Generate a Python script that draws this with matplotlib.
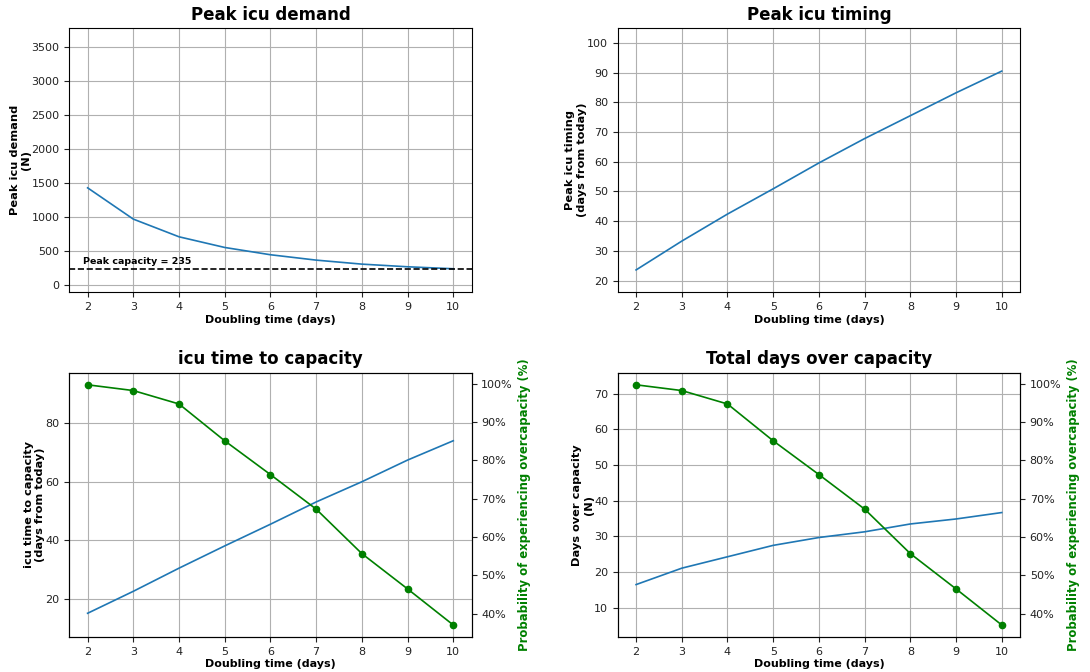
import numpy as np
import matplotlib.pyplot as plt
from matplotlib.ticker import PercentFormatter

# doubling times (days)
doubling = [2, 3, 4, 5, 6, 7, 8, 9, 10]

# values
peak_demand = [1430, 970, 710, 553, 446, 367, 308, 269, 240]
peak_timing = [23.6, 33.3, 42.4, 50.9, 59.6, 67.8, 75.5, 83.2, 90.5]
time_to_capacity = [15.1, 22.6, 30.5, 38.1, 45.5, 53.1, 60.0, 67.4, 74.0]
days_over_capacity = [16.5, 21.1, 24.3, 27.5, 29.7, 31.3, 33.5, 34.9, 36.7]
prob_overcapacity = [0.997, 0.982, 0.947, 0.851, 0.763, 0.673, 0.557, 0.465, 0.371]
peak_capacity = 235

xlabel = 'Doubling time (days)'
prob_label = 'Probability of experiencing overcapacity (%)'


def style_axis(ax, title, ylabel):
    ax.set_title(title, fontsize=12, fontweight='bold')
    ax.set_xlabel(xlabel, fontsize=8, fontweight='bold', labelpad=2)
    ax.set_ylabel(ylabel, fontsize=8.2, fontweight='bold', labelpad=0)
    ax.grid(True)
    ax.tick_params(labelsize=8, colors='#222222')
    ax.set_xticks(doubling)


def add_prob(ax):
    ax2 = ax.twinx()
    ax2.plot(doubling, prob_overcapacity, color='green', marker='o',
             markersize=4.5, linewidth=1.2)
    ax2.yaxis.set_major_formatter(PercentFormatter(xmax=1.0, decimals=0))
    ax2.set_ylabel(prob_label, color='green', fontsize=8.4, fontweight='bold')
    ax2.tick_params(labelsize=8, colors='#222222')
    return ax2


def main():
    fig, axes = plt.subplots(2, 2, figsize=(10.9, 6.72), dpi=100)
    fig.subplots_adjust(left=0.0636, right=0.9358, top=0.9583, bottom=0.0521,
                        wspace=0.3636, hspace=0.305)

    # Peak demand
    ax = axes[0, 0]
    ax.plot(doubling, peak_demand, color='tab:blue', linewidth=1.2)
    ax.axhline(peak_capacity, color='black', linestyle='--', linewidth=1.2)
    ax.text(1.9, peak_capacity + 45, 'Peak capacity = %d' % peak_capacity,
            fontsize=6.8, fontweight='bold', va='bottom', ha='left')
    ax.set_ylim(-105, 3780)
    style_axis(ax, 'Peak icu demand', 'Peak icu demand\n(N)')

    # Peak timing
    ax = axes[0, 1]
    ax.plot(doubling, peak_timing, color='tab:blue', linewidth=1.2)
    ax.set_ylim(16.1, 105.0)
    style_axis(ax, 'Peak icu timing', 'Peak icu timing\n(days from today)')

    # Time to capacity
    ax = axes[1, 0]
    ax.plot(doubling, time_to_capacity, color='tab:blue', linewidth=1.2)
    ax.set_ylim(7.0, 97.2)
    ax.set_yticks([20, 40, 60, 80])
    style_axis(ax, 'icu time to capacity', 'icu time to capacity\n(days from today)')
    add_prob(ax)

    # Days over capacity
    ax = axes[1, 1]
    ax.plot(doubling, days_over_capacity, color='tab:blue', linewidth=1.2)
    ax.set_ylim(1.8, 75.9)
    style_axis(ax, 'Total days over capacity', 'Days over capacity\n(N)')
    add_prob(ax)

    fig.savefig('out.png', dpi=100)


if __name__ == "__main__":
    main()
